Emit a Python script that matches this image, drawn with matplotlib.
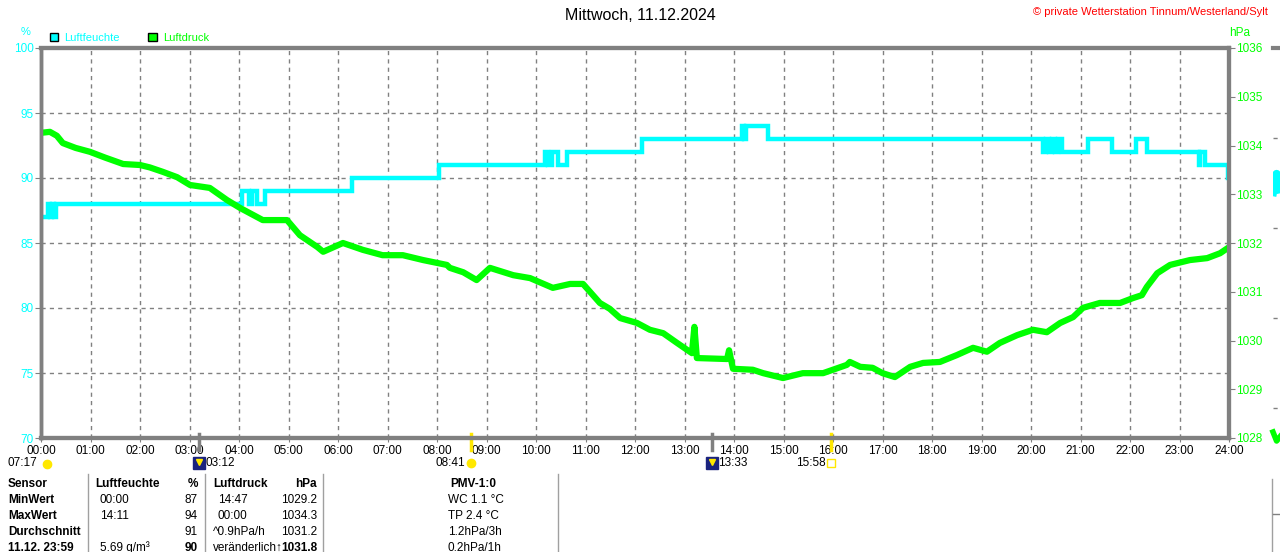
import matplotlib
matplotlib.use("Agg")
import matplotlib.pyplot as plt
from matplotlib.lines import Line2D
from matplotlib.patches import Patch

plt.rcParams['font.family'] = ['Liberation Sans', 'DejaVu Sans']
plt.rcParams['font.size'] = 8

# Luftfeuchte (%), Stufenwerte: Zeitpunkt (h) -> Wert
hum_t = [0.0, 0.14, 0.18, 0.22, 0.26, 0.30, 0.34,
         4.06, 4.20, 4.27, 4.36, 4.53,
         6.28, 8.04,
         10.18, 10.24, 10.32, 10.45, 10.63,
         12.14, 14.16, 14.20, 14.24, 14.28, 14.69,
         20.24, 20.30, 20.36, 20.42, 20.48, 20.54, 20.62,
         21.15, 21.64, 22.12, 22.34, 23.39, 23.42, 23.52, 23.98, 24.0]
hum_v = [87, 88, 87, 88, 87, 88, 88,
         89, 88, 89, 88, 89,
         90, 91,
         92, 91, 92, 91, 92,
         93, 94, 93, 94, 94, 93,
         92, 93, 92, 93, 92, 93, 92,
         93, 92, 93, 92, 91, 92, 91, 90, 90]

# Luftdruck (hPa)
pres_t = [0.0, 0.18, 0.32, 0.44, 0.7, 0.99, 1.3, 1.66, 2.0, 2.2,
          2.46, 2.75, 3.01, 3.41, 3.76, 4.02, 4.48, 4.97, 5.23, 5.58,
          5.7, 6.1, 6.5, 6.9, 7.31, 7.72, 8.2, 8.26, 8.53, 8.8,
          9.07, 9.54, 9.88, 10.34, 10.69, 10.95, 11.09, 11.29, 11.49, 11.7,
          12.04, 12.3, 12.57, 12.85, 13.15, 13.2, 13.25, 13.86, 13.9, 13.98,
          14.38, 14.59, 14.99, 15.39, 15.8, 16.28, 16.34, 16.55, 16.8, 17.0,
          17.25, 17.56, 17.82, 18.16, 18.5, 18.83, 19.11, 19.37, 19.72, 20.04,
          20.32, 20.59, 20.85, 21.05, 21.39, 21.8, 22.06, 22.24, 22.34, 22.55,
          22.81, 23.21, 23.56, 23.82, 23.98, 24.0]
pres_v = [1034.26, 1034.28, 1034.2, 1034.05, 1033.95, 1033.87, 1033.75, 1033.62, 1033.6, 1033.55,
          1033.46, 1033.35, 1033.19, 1033.13, 1032.88, 1032.72, 1032.47, 1032.47, 1032.16, 1031.92,
          1031.82, 1032.0, 1031.86, 1031.75, 1031.75, 1031.65, 1031.55, 1031.49, 1031.4, 1031.24,
          1031.49, 1031.34, 1031.28, 1031.08, 1031.16, 1031.16, 1031.0, 1030.77, 1030.65, 1030.46,
          1030.36, 1030.22, 1030.15, 1029.95, 1029.74, 1030.28, 1029.64, 1029.62, 1029.8, 1029.42,
          1029.4, 1029.33, 1029.23, 1029.33, 1029.33, 1029.5, 1029.56, 1029.46, 1029.44, 1029.33,
          1029.25, 1029.46, 1029.54, 1029.56, 1029.7, 1029.85, 1029.77, 1029.95, 1030.11, 1030.22,
          1030.17, 1030.36, 1030.48, 1030.67, 1030.77, 1030.77, 1030.87, 1030.93, 1031.1, 1031.38,
          1031.55, 1031.65, 1031.69, 1031.79, 1031.9, 1031.9]

hours = list(range(25))
hour_labels = ["%02d:00" % h for h in hours]
hum_ticks = [70, 75, 80, 85, 90, 95, 100]
pres_ticks = list(range(1028, 1037))

# Sonne / Mond Ereignisse
events = [("03:12", 3.2, "moon"), ("08:41", 8.683, "sun"),
          ("13:33", 13.55, "moon"), ("15:58", 15.967, "sun")]

# Tabelle
table_rows = [
    ["Sensor", "Luftfeuchte", "%", "Luftdruck", "hPa", "PMV-1:0"],
    ["MinWert", "00:00", "87", "14:47", "1029.2", "WC 1.1 °C"],
    ["MaxWert", "14:11", "94", "00:00", "1034.3", "TP 2.4 °C"],
    ["Durchschnitt", "", "91", "^0.9hPa/h", "1031.2", "1.2hPa/3h"],
    ["11.12. 23:59", "5.69 g/m³", "90", "veränderlich↑", "1031.8", "0.2hPa/1h"],
]

CYAN = '#00FFFF'
GREEN = '#00FF00'
GRAY = '#808080'
W, H = 1280, 552


def fx(x):
    return x / W


def fy(y):
    return 1 - y / H


fig = plt.figure(figsize=(12.8, 5.52), dpi=100)
ax = fig.add_axes([fx(41), fy(438), 1188 / W, 390 / H])
ax2 = ax.twinx()

ax.plot(hum_t, hum_v, color=CYAN, lw=3.2, drawstyle='steps-post', solid_joinstyle='miter')
ax2.plot(pres_t, pres_v, color=GREEN, lw=4.5)

ax.set_xlim(0, 24)
ax.set_ylim(70, 100)
ax2.set_ylim(1028, 1036)
ax.set_xticks(hours)
ax.set_xticklabels(hour_labels)
ax.set_yticks(hum_ticks)
ax2.set_yticks(pres_ticks)
ax.tick_params(axis='x', colors=GRAY, labelcolor='black', length=3, labelsize=8.5, pad=2)
ax.tick_params(axis='y', colors=GRAY, labelcolor=CYAN, length=4, labelsize=8.5, pad=1)
ax2.tick_params(axis='y', colors=GRAY, labelcolor=GREEN, length=4, labelsize=8.5, pad=1)
ax.grid(True, linestyle=(0, (3, 3)), color=GRAY, lw=1)
for a in (ax, ax2):
    for s in a.spines.values():
        s.set_color(GRAY)
    a.spines['top'].set_linewidth(3)
    a.spines['bottom'].set_linewidth(3)
    a.spines['left'].set_linewidth(2.5)
    a.spines['right'].set_linewidth(3)

# Marker unter der Achse
trans = ax.get_xaxis_transform()
for label, t, kind in events:
    c = '#FFE800' if kind == "sun" else GRAY
    ax.plot([t, t], [-0.03, 0.01], color=c, lw=2.5, transform=trans, clip_on=False)
    if kind == "moon":
        ax.plot([t], [-0.064], marker='s', ms=9, color='#1a237e', transform=trans, clip_on=False)
        ax.plot([t], [-0.062], marker='v', ms=4, color='#FFE800', transform=trans, clip_on=False)
        ax.text(t + 0.13, -0.064, label, transform=trans, ha='left', va='center', fontsize=8.5)
    else:
        mk = 'o' if label == "08:41" else 's'
        fc = '#FFE800' if mk == 'o' else 'white'
        ax.plot([t], [-0.064], marker=mk, ms=6, mfc=fc, mec='#FFE800', transform=trans, clip_on=False)
        ax.text(t - 0.12, -0.064, label, transform=trans, ha='right', va='center', fontsize=8.5)
ax.text(-0.07, -0.064, "07:17", transform=trans, ha='right', va='center', fontsize=8.5)
ax.plot([0.12], [-0.066], marker=(20, 0, 0), ms=6, color='#FFE800', transform=trans, clip_on=False)

# Texte oben
fig.text(0.5, fy(15), "Mittwoch, 11.12.2024", ha='center', va='center', fontsize=11.5)
fig.text(fx(1268), fy(12), "© private Wetterstation Tinnum/Westerland/Sylt", ha='right',
         va='center', fontsize=8, color='red')
fig.text(fx(26), fy(32), "%", ha='center', va='center', fontsize=8, color=CYAN)
fig.text(fx(1240), fy(33), "hPa", ha='center', va='center', fontsize=8.5, color=GREEN)
leg = fig.legend(handles=[Patch(fc=CYAN, ec='black', lw=1, label='Luftfeuchte'),
                          Patch(fc=GREEN, ec='black', lw=1, label='Luftdruck')],
                 loc='center left', bbox_to_anchor=(fx(44), fy(38)), ncol=2, frameon=False,
                 fontsize=8, handlelength=0.8, handleheight=0.8, handletextpad=0.5,
                 columnspacing=2.6, borderpad=0)
for txt, c in zip(leg.get_texts(), [CYAN, GREEN]):
    txt.set_color(c)

# Tabelle unten
row_y = [484, 500, 516, 532, 548]
for i, row in enumerate(table_rows):
    y = fy(row_y[i])
    head = i == 0
    fig.text(fx(8), y, row[0], ha='left', va='center', fontsize=8.5, fontweight='bold')
    fig.text(fx(95 if head else 100), y, row[1], ha='left', va='center', fontsize=8.5,
             fontweight='bold' if head else 'normal')
    fig.text(fx(198), y, row[2], ha='right', va='center', fontsize=8.5,
             fontweight='bold' if head or i == 4 else 'normal')
    fig.text(fx(213 if head or i >= 3 else 218), y, row[3], ha='left', va='center', fontsize=8.5,
             fontweight='bold' if head else 'normal')
    fig.text(fx(317), y, row[4], ha='right', va='center', fontsize=8.5,
             fontweight='bold' if head or i == 4 else 'normal')
    fig.text(fx(450 if head else 448), y, row[5], ha='left', va='center', fontsize=8.5,
             fontweight='bold' if head else 'normal')
for xs in [88, 205, 323, 558]:
    fig.add_artist(Line2D([fx(xs), fx(xs)], [fy(474), 0], color='#a0a0a0', lw=1))

# Rand rechts: angeschnittenes Nachbardiagramm
side_t = [0.0, 0.3, 0.6]
side_hum = [8.2, 8.8, 8.3]
side_pres = [0.2, -0.1, 0.05]
ax3 = fig.add_axes([fx(1273), fy(438), 60 / W, 390 / H])
ax3.set_xlim(0, 5)
ax3.set_ylim(0, 13)
ax3.plot(side_t, side_hum, color=CYAN, lw=6)
ax3.plot(side_t, side_pres, color=GREEN, lw=4, clip_on=False)
for v in [1, 4, 7, 10]:
    ax3.axhline(v, color=GRAY, lw=1, ls=(0, (3, 3)))
ax3.set_xticks([])
ax3.set_yticks([])
for k, s in ax3.spines.items():
    s.set_visible(k == 'top')
ax3.spines['top'].set_color(GRAY)
ax3.spines['top'].set_linewidth(3)
ax3.patch.set_visible(False)
fig.add_artist(Line2D([fx(1272), fx(1272)], [fy(479), 0], color='#a0a0a0', lw=1))
fig.add_artist(Line2D([fx(1273), fx(1279)], [fy(514), fy(514)], color=GRAY, lw=1))

fig.savefig("out.png", dpi=100)
